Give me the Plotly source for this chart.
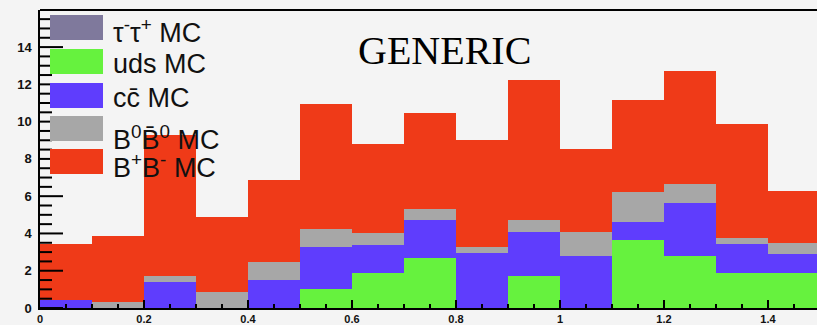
import plotly.graph_objects as go

# ---- data ----
bin_centers = [0.05, 0.15, 0.25, 0.35, 0.45, 0.55, 0.65, 0.75, 0.85, 0.95, 1.05, 1.15, 1.25, 1.35, 1.45]
tautau = [0, 0, 0, 0, 0, 0, 0, 0, 0, 0, 0, 0, 0, 0, 0]
uds = [0, 0, 0, 0, 0, 1.02, 1.87, 2.69, 0, 1.72, 0, 3.66, 2.80, 1.87, 1.87]
ccbar = [0.43, 0, 1.38, 0, 1.50, 2.28, 1.52, 2.04, 2.94, 2.38, 2.81, 0.95, 2.86, 1.55, 1.05]
b0b0 = [0, 0.30, 0.34, 0.88, 0.96, 0.93, 0.62, 0.57, 0.36, 0.63, 1.29, 1.64, 0.97, 0.33, 0.59]
bpbm = [3.01, 3.57, 7.58, 3.98, 4.40, 6.72, 4.79, 5.17, 5.73, 7.53, 4.45, 4.93, 6.11, 6.12, 2.78]

series_names = ["τ<sup>-</sup>τ<sup>+</sup> MC", "uds MC", "cc\u0304 MC",
                "B<sup>0</sup>B\u0304<sup>0</sup> MC", "B<sup>+</sup>B<sup>-</sup> MC"]
series_values = [tautau, uds, ccbar, b0b0, bpbm]
series_colors = ["#7f799c", "#66f23e", "#5f3dfd", "#a7a7a7", "#ef3a18"]

# tick labels: 0, 0.2, ..., 1, 1.2, 1.4  and 0, 2, ..., 14
x_tickvals = [0, 0.2, 0.4, 0.6, 0.8, 1.0, 1.2, 1.4]
y_tickvals = [0, 2, 4, 6, 8, 10, 12, 14]
x_minor_step = 0.05
y_minor_step = 0.5
title_text = "GENERIC"

# ---- layout geometry (pixels) ----
W, H = 817, 325
L, T, B = 40, 10, 308
R = W
X_MAX = (R - L) / 520
Y_MAX = 15.99


def px_x(px):
    return (px - L) / (R - L)


def px_y(py):
    return (B - py) / (B - T)


fig = go.Figure()
for name, vals, col in zip(series_names, series_values, series_colors):
    fig.add_trace(go.Bar(x=bin_centers, y=vals, width=0.1, name=name,
                         marker=dict(color=col, line=dict(width=0)),
                         showlegend=False))

shapes = [dict(type="line", xref="paper", yref="paper", x0=0, x1=1, y0=1, y1=1,
               line=dict(color="black", width=2))]

# ROOT-style inside tick marks (drawn over the bars)
major_y = set(round(v, 4) for v in y_tickvals)
k = 0
while k * y_minor_step <= Y_MAX:
    v = round(k * y_minor_step, 4)
    ln = 23 if v in major_y else 12
    shapes.append(dict(type="line", xref="paper", yref="y", x0=0, x1=ln / (R - L),
                       y0=v, y1=v, line=dict(color="black", width=2)))
    k += 1
major_x = set(round(v, 4) for v in x_tickvals)
k = 1
while k * x_minor_step <= X_MAX:
    v = round(k * x_minor_step, 4)
    ln = 8 if v in major_x else 4
    shapes.append(dict(type="line", xref="x", yref="paper", x0=v, x1=v,
                       y0=0, y1=ln / (B - T), line=dict(color="black", width=2)))
    k += 1

# manual legend (ROOT style)
box_tops = [15, 49, 83, 116, 149]
text_centers = [31, 64, 98, 138, 166]
annotations = []
for i, (name, col) in enumerate(zip(series_names, series_colors)):
    shapes.append(dict(type="rect", xref="paper", yref="paper",
                       x0=px_x(50), x1=px_x(103),
                       y0=px_y(box_tops[i] + 25), y1=px_y(box_tops[i]),
                       fillcolor=col, line=dict(width=0)))
    annotations.append(dict(text=name, xref="paper", yref="paper",
                            x=px_x(111), y=px_y(text_centers[i]),
                            xanchor="left", yanchor="middle", showarrow=False,
                            font=dict(family="Liberation Sans", size=27, color="#111111")))

annotations.append(dict(text=title_text, xref="paper", yref="paper",
                        x=px_x(445), y=px_y(51), xanchor="center", yanchor="middle",
                        showarrow=False,
                        font=dict(family="Liberation Serif", size=40, color="#000000")))

fig.update_layout(
    template="none",
    width=W, height=H,
    margin=dict(l=L, r=W - R, t=T, b=H - B),
    barmode="stack", bargap=0,
    paper_bgcolor="#f4f4f4", plot_bgcolor="#f4f4f4",
    shapes=shapes, annotations=annotations,
    showlegend=False,
)
fig.update_xaxes(range=[0, X_MAX],
                 tick0=x_tickvals[0], dtick=x_tickvals[1] - x_tickvals[0],
                 ticks="", showline=True, linewidth=2, linecolor="black",
                 showgrid=False, zeroline=False,
                 layer="above traces", tickprefix="<b>", ticksuffix="</b>",
                 tickfont=dict(family="Liberation Sans", size=11, color="#111111"))
fig.update_yaxes(range=[0, Y_MAX],
                 tick0=y_tickvals[0], dtick=y_tickvals[1] - y_tickvals[0],
                 ticks="", showline=True, linewidth=2, linecolor="black",
                 showgrid=False, zeroline=False,
                 layer="above traces", tickprefix="<b>", ticksuffix="</b>\u00a0",
                 tickfont=dict(family="Liberation Sans", size=13, color="#111111"))

fig.write_html("out.html", config={"displayModeBar": False},
               post_script="document.body.style.margin='0';document.body.style.background='#f4f4f4';")
